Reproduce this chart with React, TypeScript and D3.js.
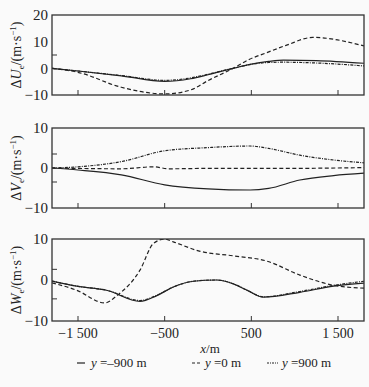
import * as d3 from 'd3'

// x positions (m) of the read points
const xU = [-1800, -1500, -1000, -500, -200, 0, 290, 500, 700, 870, 1250, 1800]
const uSouth = [0, -1.0, -2.8, -4.9, -3.9, -2.4, 0, 1.6, 2.6, 3.1, 2.9, 1.9]
const uMid = [0, -1.5, -7.1, -9.6, -8.1, -4.6, 0, 3.4, 5.9, 8.6, 11.6, 8.4]
const uMidX = [-1800, -1500, -1000, -500, -200, 0, 290, 480, 680, 900, 1210, 1800]
const uNorth = [0, -1.0, -2.7, -4.5, -3.6, -2.2, 0, 1.5, 2.2, 2.3, 2.0, 0.9]

const xV = [-1800, -1500, -1000, -500, 0, 485, 700, 1060, 1450, 1800]
const vSouth = [0, -0.5, -1.7, -4.2, -5.2, -5.5, -5.1, -3.0, -1.9, -1.3]
const vNorth = [0, 0.3, 1.6, 4.3, 5.1, 5.5, 4.9, 3.2, 2.0, 1.3]
const xVMid = [-1800, -1000, -630, -450, 0, 900, 1800]
const vMid = [0, -0.2, 0.3, -0.2, -0.1, -0.1, 0.1]

const xW = [-1800, -1515, -1170, -785, -590, -400, -170, 100, 300, 460, 640, 1060, 1450, 1800]
const wSouth = [-0.25, -1.5, -2.5, -5.2, -3.8, -1.7, -0.3, 0, -1.0, -2.6, -4.2, -3.0, -1.5, -0.75]
const wNorth = [-0.25, -1.5, -2.5, -5.0, -3.7, -1.7, -0.3, 0, -1.0, -2.6, -4.1, -2.8, -1.3, -0.3]
const xWMid = [-1800, -1515, -1190, -1050, -785, -630, -500, -400, -90, 290, 680, 1060, 1450, 1800]
const wMid = [-0.7, -2.5, -5.6, -3.8, 2.4, 8.9, 10, 9.3, 7.0, 5.9, 4.6, 1.2, -1.3, -2.0]

const xTicks = [-1500, -500, 500, 1500]
const xTickLabels = ['−1 500', '−500', '500', '1 500']

const panels = [
  {
    letter: 'U', domain: [-10, 20], ticks: [-10, 0, 10, 20], minor: [5], top: 15, bottom: 95,
    series: [
      { x: xU, y: uSouth, dash: '' },
      { x: uMidX, y: uMid, dash: '4,2.5' },
      { x: xU, y: uNorth, dash: '3,1.2,1,1.2' },
    ],
  },
  {
    letter: 'V', domain: [-10, 10], ticks: [-10, 0, 10], minor: [-3.5, 3.5], top: 128, bottom: 208,
    series: [
      { x: xV, y: vSouth, dash: '' },
      { x: xVMid, y: vMid, dash: '4,2.5' },
      { x: xV, y: vNorth, dash: '3,1.2,1,1.2' },
    ],
  },
  {
    letter: 'W', domain: [-10, 10], ticks: [-10, 0, 10], minor: [-4.6, 2.6], top: 239, bottom: 321,
    series: [
      { x: xW, y: wSouth, dash: '' },
      { x: xWMid, y: wMid, dash: '4,2.5' },
      { x: xW, y: wNorth, dash: '3,1.2,1,1.2' },
    ],
  },
]

const legendItems = [
  { label: '=–900 m', dash: '' },
  { label: '=0 m', dash: '3,2' },
  { label: '=900 m', dash: '2,1,1,1' },
]

const serif = { fontFamily: "'Liberation Serif', 'Times New Roman', Times, 'DejaVu Serif', serif" }
const ink = '#222'

export default function App() {
  const width = 369
  const height = 387
  const left = 52
  const right = 364
  const x = d3.scaleLinear().domain([-1800, 1800]).range([left, right])

  return (
    <svg width={width} height={height} style={{ position: 'absolute', left: 0, top: 0, background: '#fafafa' }}>
      {panels.map((p, pi) => {
        const y = d3.scaleLinear().domain(p.domain).range([p.bottom, p.top])
        const clipId = `clip${pi}`
        const mid = (p.top + p.bottom) / 2
        return (
          <g key={pi}>
            <defs>
              <clipPath id={clipId}>
                <rect x={left} y={p.top} width={right - left} height={p.bottom - p.top} />
              </clipPath>
            </defs>
            <g clipPath={`url(#${clipId})`}>
              {p.series.map((s, si) => {
                const pts = s.x.map((xv, i) => [xv, s.y[i]] as [number, number])
                const line = d3
                  .line<[number, number]>()
                  .x((d) => x(d[0]))
                  .y((d) => y(d[1]))
                  .curve(d3.curveMonotoneX)
                return (
                  <path key={si} d={line(pts) ?? ''} fill="none" stroke={ink} strokeWidth={1.2} strokeDasharray={s.dash || undefined} />
                )
              })}
            </g>
            <rect x={left} y={p.top} width={right - left} height={p.bottom - p.top} fill="none" stroke="#333" strokeWidth={1.3} />
            {xTicks.map((t) => (
              <line key={t} x1={x(t)} x2={x(t)} y1={p.bottom} y2={p.bottom - 5} stroke="#333" strokeWidth={1} />
            ))}
            {p.minor.map((t) => (
              <line key={t} x1={left} x2={left + 5} y1={y(t)} y2={y(t)} stroke="#333" strokeWidth={1} />
            ))}
            {p.ticks.map((t) => (
              <text key={t} x={48} y={y(t)} dy="0.35em" textAnchor="end" fontSize={15} fill={ink} style={serif}>
                {t < 0 ? `−${-t}` : t}
              </text>
            ))}
            <text transform={`translate(21,${mid}) rotate(-90)`} textAnchor="middle" fontSize={14} fill={ink} style={serif}>
              <tspan>Δ</tspan>
              <tspan fontStyle="italic">{p.letter}</tspan>
              <tspan fontSize={9} dy={3}>e</tspan>
              <tspan dy={-3}>/(m·s</tspan>
              <tspan fontSize={9} dy={-5}>−1</tspan>
              <tspan dy={5}>)</tspan>
            </text>
          </g>
        )
      })}
      {xTicks.map((t, i) => (
        <text key={t} x={x(t)} y={338} textAnchor="middle" fontSize={14} fill={ink} style={serif}>
          {xTickLabels[i]}
        </text>
      ))}
      <text x={210} y={353} textAnchor="middle" fontSize={13} fill={ink} style={serif}>
        <tspan fontStyle="italic">x</tspan>/m
      </text>
      {legendItems.map((l, i) => {
        const lx = [77, 192, 267][i]
        const tx = [91, 205, 282][i]
        return (
          <g key={i}>
            <line x1={lx} x2={lx + (i === 2 ? 11 : 8)} y1={363} y2={363} stroke={ink} strokeWidth={1.2} strokeDasharray={l.dash || undefined} />
            <text x={tx} y={367} fontSize={13} fill={ink} style={serif}>
              <tspan fontStyle="italic">y</tspan> {l.label}
            </text>
          </g>
        )
      })}
    </svg>
  )
}
